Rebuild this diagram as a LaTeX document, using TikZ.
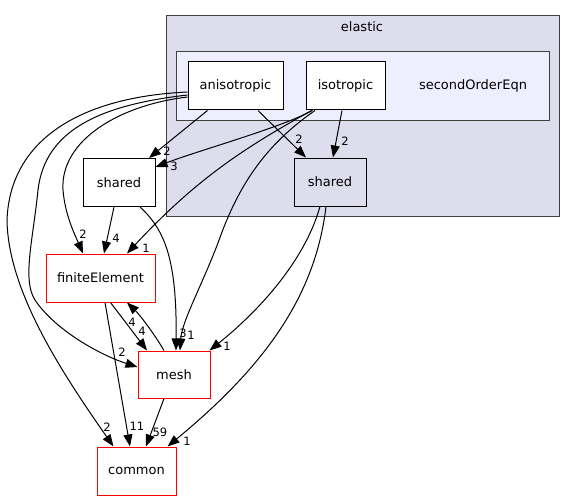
\documentclass[tikz,border=0pt]{standalone}
\usepackage{fontspec}
\setmainfont{DejaVu Sans}
\usetikzlibrary{arrows.meta}
\definecolor{clA}{HTML}{DDDDEE}
\definecolor{clB}{HTML}{EEEEFF}
\definecolor{clBorder}{HTML}{404040}
\begin{document}
\begin{tikzpicture}[x=1pt,y=-1pt,
  cluster/.style={draw=clBorder,line width=1pt,inner sep=0pt},
  box/.style={draw=black,line width=1pt,fill=white,inner sep=0pt,minimum height=48pt,font=\fontsize{13}{15}\selectfont},
  redbox/.style={box,draw=red},
  txt/.style={inner sep=0pt,font=\fontsize{13}{15}\selectfont},
  dep/.style={draw=black,line width=1pt,-{Triangle[length=12pt,width=9pt]}},
  lbl/.style={inner sep=0pt,font=\fontsize{11.5}{13}\selectfont}]
\useasboundingbox (0,0) rectangle (575,500);
% clusters
\node[cluster,fill=clA,minimum width=393pt,minimum height=200.5pt] (elastic) at (362.5,116.25) {};
\node[txt] (elasticlbl) at (362,27) {elastic};
\node[cluster,fill=clB,minimum width=373pt,minimum height=69pt] (soe) at (362.5,86.5) {};
\node[txt] (soelbl) at (473,86) {secondOrderEqn};
% nodes
\node[box,minimum width=95pt] (aniso) at (235.5,86) {anisotropic};
\node[box,minimum width=79pt] (iso) at (345.5,86) {isotropic};
\node[box,fill=clA,minimum width=72pt] (sharedIn) at (330,182) {shared};
\node[box,minimum width=72pt] (sharedOut) at (119,182.5) {shared};
\node[redbox,minimum width=109pt] (fe) at (100.5,278) {finiteElement};
\node[redbox,minimum width=72pt,minimum height=47pt] (mesh) at (174,374.5) {mesh};
\node[redbox,minimum width=79pt] (common) at (136.5,471) {common};
% edges
\draw[dep] ([xshift=-28pt]aniso.south) -- ([xshift=30pt]sharedOut.north);
\draw[dep] ([xshift=-33pt]iso.south) .. controls (280,128) and (200,150) .. ([yshift=15.5pt]sharedOut.east);
\draw[dep] ([xshift=22.5pt]aniso.south) -- ([xshift=-24pt]sharedIn.north);
\draw[dep] ([xshift=-3.5pt]iso.south) -- ([xshift=3pt]sharedIn.north);
\draw[dep] ([yshift=-11pt]aniso.west) .. controls (120,105) and (60,140) .. (63,190) .. controls (65,215) and (75,235) .. ([xshift=-17.5pt]fe.north);
\draw[dep] ([xshift=-34pt]iso.south) .. controls (250,145) and (200,175) .. ([xshift=26.5pt]fe.north);
\draw[dep] ([xshift=-30.5pt]iso.south) .. controls (265,145) and (240,185) .. (222,232) .. controls (205,280) and (182,320) .. ([xshift=6pt]mesh.north);
\draw[dep] ([xshift=21pt]sharedOut.south) .. controls (165,230) and (177,260) .. ([xshift=2pt]mesh.north);
\draw[dep] ([yshift=-9pt]aniso.west) .. controls (100,105) and (45,130) .. (38,190) .. controls (33,240) and (22,280) .. (35,300) .. controls (55,330) and (100,355) .. ([yshift=7.5pt]mesh.west);
\draw[dep] ([yshift=-6pt]aniso.west) .. controls (80,97) and (10,140) .. (7,220) .. controls (8,290) and (60,370) .. ([xshift=-23pt]common.north);
\draw[dep] ([xshift=-5pt]sharedOut.south) -- ([xshift=3.5pt]fe.north);
\draw[dep] ([xshift=10pt]fe.south) -- ([xshift=-27pt]mesh.north);
\draw[dep] ([xshift=-10pt]mesh.north) .. controls (155,335) and (140,315) .. ([xshift=26.5pt]fe.south);
\draw[dep] ([xshift=4.5pt]fe.south) -- ([xshift=-6.5pt]common.north);
\draw[dep] ([xshift=-10pt]mesh.south) -- ([xshift=9.5pt]common.north);
\draw[dep] ([xshift=-10pt]sharedIn.south) .. controls (305,260) and (260,310) .. ([xshift=-1pt]mesh.north east);
\draw[dep] ([xshift=-4pt]sharedIn.south) .. controls (315,300) and (260,370) .. ([xshift=-9pt]common.north east);
% labels
\node[lbl] (l1) at (167,151) {2};
\node[lbl] (l2) at (174,166) {3};
\node[lbl] (l3) at (299,139) {2};
\node[lbl] (l4) at (345,141) {2};
\node[lbl] (l5) at (83,234) {2};
\node[lbl] (l6) at (116,238) {4};
\node[lbl] (l7) at (146,248) {1};
\node[lbl] (l8) at (183,333) {3};
\node[lbl] (l9) at (191,335) {1};
\node[lbl] (l10) at (132,322) {4};
\node[lbl] (l11) at (142,331) {4};
\node[lbl] (l12) at (122,352) {2};
\node[lbl] (l13) at (227,346) {1};
\node[lbl] (l14) at (107,427) {2};
\node[lbl] (l15) at (137,426) {11};
\node[lbl] (l16) at (160,432) {59};
\node[lbl] (l17) at (187,441) {1};
\end{tikzpicture}
\end{document}
